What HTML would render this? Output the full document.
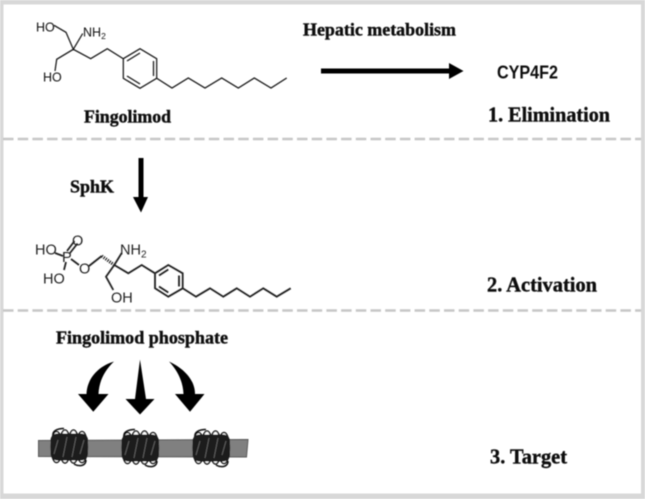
<!DOCTYPE html>
<html><head><meta charset="utf-8">
<style>
html,body{margin:0;padding:0;background:#fff}
svg{display:block}
.s{font-family:"Liberation Serif",serif;font-weight:bold;fill:#111;stroke:#111;stroke-width:.4px}
.a{font-family:"Liberation Sans",sans-serif}
</style></head>
<body>
<svg width="645" height="499" viewBox="0 0 645 499" xmlns="http://www.w3.org/2000/svg">
<defs>
<filter id="b" x="-5%" y="-5%" width="110%" height="110%"><feGaussianBlur stdDeviation="0.5"/></filter>
<g id="coil">
 <path d="M3 8C2 3 7 0.5 14 0.5" fill="none" stroke="#111" stroke-width="1.5"/>
 <path d="M24 36C29 39 36 38 36 32" fill="none" stroke="#111" stroke-width="1.5"/>
 <g fill="#fff" stroke="#111" stroke-width="1.5">
  <ellipse cx="6.5" cy="19" rx="5.4" ry="15.5"/>
  <ellipse cx="15" cy="18.5" rx="5.4" ry="16.5"/>
  <ellipse cx="23.5" cy="18.5" rx="5.4" ry="16.5"/>
  <ellipse cx="32" cy="19" rx="5.4" ry="15.5"/>
 </g>
 <rect x="0.5" y="5.5" width="37.5" height="27" rx="7" fill="#1a1a1a"/>
 <g fill="none" stroke="#5e5e5e" stroke-width="1">
  <path d="M4 26L8 12M13 29L17 9M22 29L26 9M30 26L34 12"/>
 </g>
</g>
</defs>
<rect width="645" height="499" fill="#fff"/>
<g filter="url(#b)">
<path d="M0 0H645V499H0ZM3.5 4.5V493.5H641V4.5Z" fill="#d8d8d8" fill-rule="evenodd"/>
<path d="M3 139H641M3 310.5H641" stroke="#c6c6c6" stroke-width="2.6" stroke-dasharray="10.5 4.2" fill="none"/>

<g fill="none" stroke="#111" stroke-width="1.2">
 <path d="M54 25.3L66 32.3L73.3 49.3L82.7 33.5M73.3 49.3L56.7 59.3L55 71M73.3 49.3L90.7 58.7L107.3 48.7L123.3 58.7"/>
 <path d="M123.3 58.7L140 48.7L156.7 58.7V78.3L140 88.3L123.3 78.3Z"/>
 <path d="M127 61L140 53M153.5 61V76M127 76L140 84"/>
 <path d="M156.7 78.3L172 88L188.3 78L205 88L221.7 78L238.3 88L254.3 78L271 88L286.7 78"/>
</g>
<g class="a" font-size="12.5" fill="#111">
 <text x="36" y="31.5">HO</text>
 <text x="83" y="36.5">NH<tspan font-size="8.5" dy="2.5">2</tspan></text>
 <text x="43" y="81.5">HO</text>
</g>

<g fill="none" stroke="#222" stroke-width="1.8">
 <path d="M55 253L63 256M67 251L74.5 241M70 253L77.5 243.5M66 262L64 270M71 259L79 265M89 266L101.7 256"/>
 <path d="M114.3 265L121.7 253M114.3 265L106 276.7L113.3 290M114.3 265L128.3 273.3L141.7 265L155 273.3"/>
 <path d="M101.7 256L114.3 265" stroke-dasharray="1.2 1.2" stroke-width="3.2"/>
 <path d="M155 273.3L168.3 265L182.7 273.3V288.3L168.3 296.7L155 288.3Z"/>
 <path d="M159 275.5L168.3 269.5M179 275.5V286.5M159 286.5L168.3 292.5"/>
 <path d="M182.7 288.3L196 296.7L210 288.3L223.3 296.7L236.7 288.3L250 296.7L263.3 288.3L276.7 296.7L290.7 288.3"/>
</g>
<g class="a" font-size="14.5" fill="#222">
 <text x="35" y="254.5">HO</text>
 <text x="62" y="262">P</text>
 <text x="72" y="245.5">O</text>
 <text x="43" y="283.5">HO</text>
 <text x="79" y="273.5">O</text>
 <text x="120" y="254.5">NH<tspan font-size="10" dy="3">2</tspan></text>
 <text x="111" y="302.5">OH</text>
</g>

<path d="M321 68.5H449V63L463.5 71L449 79V73.5H321Z" fill="#000"/>
<path d="M138.5 158H143.5V197H148L141 212.5L133 197H138.5Z" fill="#000"/>

<path d="M114 361.5C99 366 87 378 86.5 394H78L93.3 411.7L108.5 394H98.5C99 382 104 371 114 361.5Z" fill="#000"/>
<path d="M140 359.5L135 399H125.5L140 414.5L154.5 399H146Z" fill="#000"/>
<path d="M169 361.5C181 367 195 378 195 394H204.5L190 411.7L175 394H183.5C183 382 178 371 169 361.5Z" fill="#000"/>

<path d="M38.5 440.5L248 439.5L246.5 457L38.5 456.5Z" fill="#808080" stroke="#555" stroke-width="1"/>
<use href="#coil" x="50" y="428"/>
<use href="#coil" x="121" y="429"/>
<use href="#coil" x="192" y="429"/>

<g class="s">
 <text x="303" y="35.5" font-size="18" textLength="153" lengthAdjust="spacingAndGlyphs">Hepatic metabolism</text>
 <text x="84" y="122.5" font-size="18" textLength="87" lengthAdjust="spacingAndGlyphs">Fingolimod</text>
 <text x="488" y="121.5" font-size="21.5" textLength="122" lengthAdjust="spacingAndGlyphs">1. Elimination</text>
 <text x="70" y="192.5" font-size="17.5" textLength="44" lengthAdjust="spacingAndGlyphs">SphK</text>
 <text x="487" y="291.5" font-size="21.5" textLength="110" lengthAdjust="spacingAndGlyphs">2. Activation</text>
 <text x="56" y="343.5" font-size="18" textLength="172" lengthAdjust="spacingAndGlyphs">Fingolimod phosphate</text>
 <text x="490" y="463.5" font-size="21.5" textLength="77" lengthAdjust="spacingAndGlyphs">3. Target</text>
</g>
<text x="497" y="78.5" font-family="'Liberation Sans',sans-serif" font-weight="bold" font-size="18" fill="#111" textLength="61" lengthAdjust="spacingAndGlyphs">CYP4F2</text>
</g>
</svg>
</body></html>
